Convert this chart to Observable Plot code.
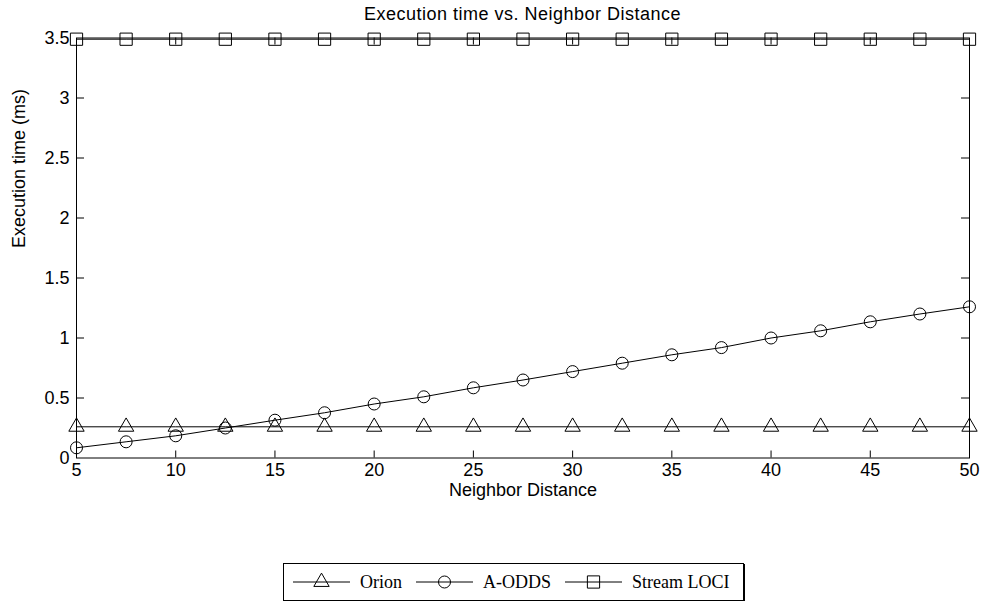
<!DOCTYPE html>
<html>
<head>
<meta charset="utf-8">
<script src="https://cdn.jsdelivr.net/npm/d3@7"></script>
<script src="https://cdn.jsdelivr.net/npm/@observablehq/plot@0.6"></script>
<style>
  html, body { margin: 0; padding: 0; background: #fff; overflow: hidden; }
  #title { height: 24px; box-sizing: border-box; padding: 4px 16px 0 76px; line-height: 20px;
           font: 18px "Liberation Sans", Arial, sans-serif; letter-spacing: 0.5px; text-align: center; color: #000; }
  #legend { margin: 7px 0 0 283px; width: 461px; height: 38px; box-sizing: border-box; border: 1px solid #000;
            box-shadow: 1px 1px 0 #000; white-space: nowrap;
            display: flex; align-items: center; padding-left: 9px;
            font: 18px "Liberation Serif", "Times New Roman", serif; color: #000; }
  #legend .item { display: flex; align-items: center; margin-right: 14px; flex-shrink: 0; white-space: nowrap; }
  #legend .item span { white-space: nowrap; flex-shrink: 0; }
  #legend svg { margin-right: 10px; flex-shrink: 0; }
</style>
</head>
<body>
<div id="title">Execution time vs. Neighbor Distance</div>
<div id="chart"></div>
<div id="legend"></div>
<script>
// ---- data ----
const distances = [5, 7.5, 10, 12.5, 15, 17.5, 20, 22.5, 25, 27.5, 30, 32.5, 35, 37.5, 40, 42.5, 45, 47.5, 50];
const orion = [0.26, 0.26, 0.26, 0.26, 0.26, 0.26, 0.26, 0.26, 0.26, 0.26, 0.26, 0.26, 0.26, 0.26, 0.26, 0.26, 0.26, 0.26, 0.26];
const aodds = [0.085, 0.135, 0.185, 0.25, 0.315, 0.377, 0.45, 0.51, 0.585, 0.65, 0.72, 0.79, 0.86, 0.92, 1.0, 1.06, 1.135, 1.2, 1.26];
const streamLoci = [3.49, 3.49, 3.49, 3.49, 3.49, 3.49, 3.49, 3.49, 3.49, 3.49, 3.49, 3.49, 3.49, 3.49, 3.49, 3.49, 3.49, 3.49, 3.49];
const seriesNames = ["Orion", "A-ODDS", "Stream LOCI"];
const xTickLabels = [5, 10, 15, 20, 25, 30, 35, 40, 45, 50];
const yTickLabels = [0, 0.5, 1, 1.5, 2, 2.5, 3, 3.5];

const seriesValues = [orion, aodds, streamLoci];
const data = seriesNames.flatMap((name, i) => distances.map((d, j) => ({series: name, x: d, y: seriesValues[i][j]})));

const W = 985, H = 532, ML = 76, MR = 16, MT = 13.5, MB = 98.5;
const PW = W - ML - MR, PH = H - MT - MB;
const symbols = {"Orion": "triangle", "A-ODDS": "circle", "Stream LOCI": "square"};
const radii = {"Orion": 5.7, "A-ODDS": 6, "Stream LOCI": 6.9};

const xInner = xTickLabels.slice(1, -1);
const yInner = yTickLabels.slice(1, -1);

const chart = Plot.plot({
  width: W, height: H,
  marginLeft: ML, marginRight: MR, marginTop: MT, marginBottom: MB,
  x: {domain: [5, 50]},
  y: {domain: [0, 3.5]},
  style: {fontFamily: "'Liberation Sans', Arial, sans-serif", fontSize: "18px", color: "#000", background: "#fff", overflow: "visible"},
  marks: [
    Plot.axisX(xTickLabels, {tickSize: 0, tickPadding: 5, label: null, fontSize: 18, tickFormat: d => String(d)}),
    Plot.axisY(yTickLabels, {tickSize: 0, tickPadding: 7, label: null, fontSize: 18, tickFormat: d => String(d)}),
    Plot.tickX(xInner, {x: d => d, insetTop: PH - 7, stroke: "#000"}),
    Plot.tickX(xInner, {x: d => d, insetBottom: PH - 7, stroke: "#000"}),
    Plot.tickY(yInner, {y: d => d, insetRight: PW - 8, stroke: "#000"}),
    Plot.tickY(yInner, {y: d => d, insetLeft: PW - 8, stroke: "#000"}),
    Plot.line(data, {x: "x", y: "y", z: "series", stroke: "#000", strokeWidth: 1}),
    ...seriesNames.map(name => Plot.dot(data.filter(d => d.series === name), {
      x: "x", y: "y", symbol: () => symbols[name], r: radii[name], stroke: "#000", strokeWidth: 1, fill: "none"
    })),
    Plot.frame({stroke: "#000", strokeWidth: 1}),
    Plot.text(["Neighbor Distance"], {frameAnchor: "bottom", lineAnchor: "top", dy: 25, fontSize: 18}),
    Plot.text(["Execution time (ms)"], {frameAnchor: "left", rotate: -90, dx: -57, fontSize: 18})
  ]
});
document.getElementById("chart").appendChild(chart);

// ---- legend ----
const legend = document.getElementById("legend");
seriesNames.forEach(name => {
  const item = document.createElement("div");
  item.className = "item";
  const s = d3.create("svg").attr("width", 57).attr("height", 20);
  s.append("line").attr("x1", 0).attr("x2", 57).attr("y1", 10).attr("y2", 10).attr("stroke", "#000");
  const r = radii[name];
  const sym = d3.symbol().type({triangle: d3.symbolTriangle, circle: d3.symbolCircle, square: d3.symbolSquare}[symbols[name]]).size(r * r * Math.PI);
  s.append("path").attr("d", sym()).attr("transform", "translate(28.5,10)").attr("fill", "none").attr("stroke", "#000");
  item.appendChild(s.node());
  const t = document.createElement("span");
  t.textContent = name;
  item.appendChild(t);
  legend.appendChild(item);
});
</script>
</body>
</html>
